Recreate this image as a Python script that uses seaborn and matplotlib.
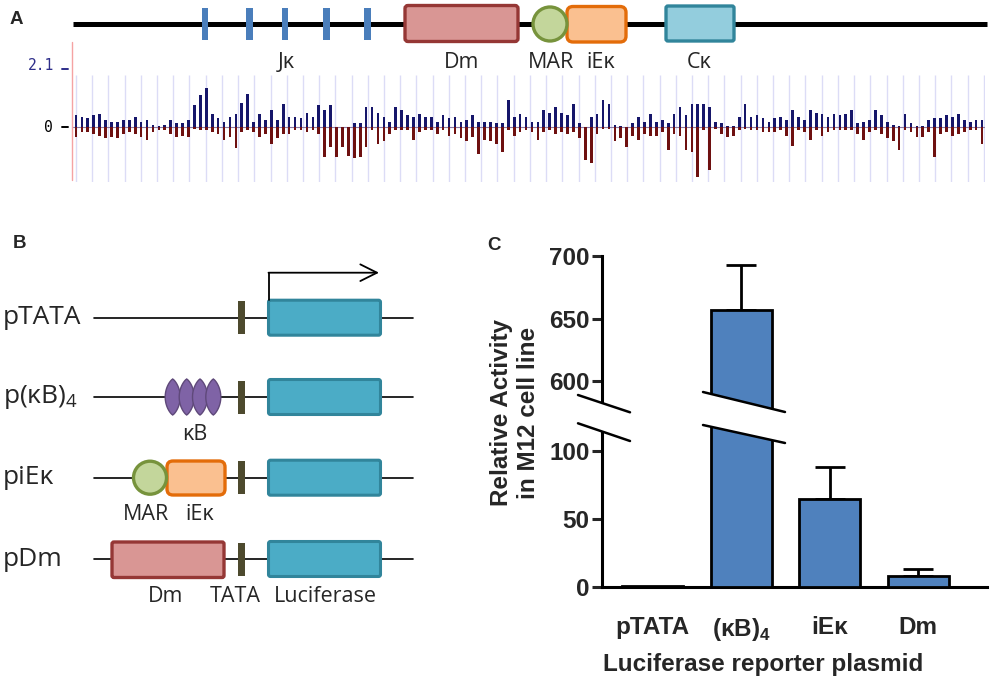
import numpy as np
import pandas as pd
import matplotlib
matplotlib.use('Agg')
import matplotlib.pyplot as plt
import seaborn as sns
from matplotlib.patches import Rectangle, FancyBboxPatch, Circle, Polygon

# ---- data: panel A signal track (one value per ~6 px bin)
track_pos = [0.4, 0.35, 0.3, 0.4, 0.45, 0.23, 0.17, 0.17, 0.23, 0.23, 0.35, 0.17, 0.23,
             0.06, 0.03, 0.06, 0.23, 0.12, 0.12, 0.23, 0.75, 1.1, 1.35, 0.45, 0.3, 0.17,
             0.35, 0.45, 0.85, 1.15, 0.17, 0.45, 0.23, 0.6, 0.23, 0.8, 0.35, 0.35, 0.3,
             0.5, 0.35, 0.75, 0.6, 0.75, 0.0, 0.0, 0.0, 0.12, 0.12, 0.7, 0.7, 0.5,
             0.35, 0.17, 0.7, 0.6, 0.4, 0.35, 0.45, 0.35, 0.35, 0.17, 0.4, 0.3, 0.35,
             0.17, 0.23, 0.4, 0.17, 0.17, 0.17, 0.12, 0.12, 0.93, 0.35, 0.45, 0.35, 0.17,
             0.17, 0.6, 0.5, 0.7, 0.5, 0.4, 0.8, 0.12, 0.0, 0.35, 0.45, 0.93, 0.8,
             0.06, 0.02, 0.0, 0.12, 0.35, 0.17, 0.45, 0.17, 0.23, 0.14, 0.45, 0.7, 0.4,
             0.8, 0.8, 0.8, 0.7, 0.17, 0.12, 0.02, 0.02, 0.35, 0.8, 0.35, 0.4, 0.3,
             0.17, 0.3, 0.35, 0.23, 0.6, 0.35, 0.23, 0.6, 0.5, 0.45, 0.35, 0.45, 0.4,
             0.45, 0.6, 0.14, 0.17, 0.23, 0.6, 0.4, 0.17, 0.06, 0.02, 0.45, 0.12, 0.02,
             0.02, 0.23, 0.3, 0.3, 0.4, 0.35, 0.45, 0.23, 0.17, 0.23, 0.23]
track_neg = [-0.35, -0.17, -0.17, -0.23, -0.3, -0.4, -0.35, -0.4, -0.23, -0.17, -0.23, -0.35, -0.47,
             -0.17, -0.12, -0.12, -0.23, -0.35, -0.3, -0.35, -0.06, -0.12, -0.12, -0.17, -0.23, -0.47,
             -0.35, -0.75, -0.17, -0.12, -0.17, -0.35, -0.23, -0.6, -0.4, -0.23, -0.23, -0.12, -0.12,
             -0.17, -0.12, -0.23, -1.05, -0.7, -1.05, -0.7, -1.0, -1.1, -1.05, -0.7, -0.12, -0.6,
             -0.5, -0.23, -0.12, -0.12, -0.12, -0.47, -0.17, -0.12, -0.12, -0.23, -0.12, -0.3, -0.23,
             -0.4, -0.5, -0.35, -0.93, -0.47, -0.5, -0.6, -0.87, -0.12, -0.3, -0.17, -0.12, -0.17,
             -0.47, -0.17, -0.12, -0.23, -0.17, -0.23, -0.17, -0.4, -1.15, -1.27, -0.23, -0.06, -0.06,
             -0.5, -0.4, -0.7, -0.3, -0.47, -0.23, -0.3, -0.3, -0.17, -0.8, -0.23, -0.3, -0.8,
             -0.87, -1.75, -0.12, -1.5, -0.06, -0.23, -0.35, -0.3, -0.12, -0.06, -0.12, -0.12, -0.17,
             -0.17, -0.17, -0.12, -0.3, -0.65, -0.12, -0.17, -0.47, -0.12, -0.3, -0.17, -0.12, -0.12,
             -0.12, -0.1, -0.23, -0.47, -0.17, -0.12, -0.23, -0.4, -0.5, -0.8, -0.12, -0.17, -0.35,
             -0.35, -0.17, -1.05, -0.23, -0.17, -0.3, -0.23, -0.17, -0.12, -0.12, -0.6]
track_top_label = '2.1'

# ---- data: panel C luciferase assay
plasmids = ['pTATA', '(κB)$_\\mathbf{4}$', 'iEκ', 'Dm']
activity = [1.0, 657.0, 64.5, 8.0]
err_up = [0.0, 36.0, 24.0, 5.0]

# ---- schematic labels
rows_b = ['pTATA', 'p(κB)$_4$', 'piEκ', 'pDm']

sns.set_style('white')
plt.rcParams['font.family'] = ['Liberation Sans', 'DejaVu Sans']
plt.rcParams['mathtext.fontset'] = 'custom'
plt.rcParams['mathtext.rm'] = 'Open Sans'
plt.rcParams['mathtext.bf'] = 'Liberation Sans:bold'

W, H = 992, 682
fig = plt.figure(figsize=(9.92, 6.82), dpi=100)


def px_axes(x0, y0, x1, y1):
    return fig.add_axes([x0 / W, 1 - y1 / H, (x1 - x0) / W, (y1 - y0) / H])


OPEN = ['Open Sans', 'DejaVu Sans']
FS_C = 17.5

# ---------------- panel A track
ax_t = px_axes(73, 75, 985, 182)
n = len(track_pos)
xb = np.arange(n) + 0.5
grid_x = (np.arange(57) * 16.21 + 76 - 73) / (912 / n)
ax_t.vlines(grid_x, -1.92, 1.81, color='#dcdcf6', lw=1, zorder=0)
ax_t.bar(xb, track_pos, width=0.45, color='#16166a', lw=0, zorder=2)
ax_t.bar(xb, track_neg, width=0.45, color='#6e1010', lw=0, zorder=2)
ax_t.axhline(0, color='#8a7aa8', lw=0.8, zorder=1)
ax_t.set_xlim(0, n)
ax_t.set_ylim(-1.92, 1.81)
ax_t.axis('off')

# ---------------- panel C broken-axis bar chart
df = pd.DataFrame({'plasmid': plasmids, 'activity': activity})
ax_hi = px_axes(602, 256, 987, 412)
ax_lo = px_axes(602, 423, 987, 587)
idx = [i for i, e in enumerate(err_up) if e > 0]
for ax in (ax_hi, ax_lo):
    sns.barplot(data=df, x='plasmid', y='activity', order=plasmids, color='#4f81bd',
                saturation=1, width=0.69, edgecolor='black', linewidth=2,
                errorbar=None, ax=ax, zorder=3)
    ax.errorbar(idx, [activity[i] for i in idx],
                yerr=[[0] * len(idx), [err_up[i] for i in idx]],
                fmt='none', ecolor='black', elinewidth=2, capsize=11, capthick=2, zorder=2)
    ax.set_xlim(-0.57, 3.775)
    ax.set_ylabel('')
    ax.set_xlabel('')
    for s in ['top', 'right']:
        ax.spines[s].set_visible(False)
    for s in ['left', 'bottom']:
        ax.spines[s].set_linewidth(2.2)
        ax.spines[s].set_color('black')
    ax.tick_params(axis='y', direction='out', length=7, width=2.2, pad=2, left=True)

ax_hi.set_ylim(575.2, 700)
ax_hi.set_yticks([600, 650, 700])
ax_hi.set_yticklabels(['600', '650', '700'], fontweight='bold', fontsize=FS_C)
ax_hi.spines['bottom'].set_visible(False)
ax_hi.set_xticks([])

ax_lo.set_ylim(0, 120.6)
ax_lo.set_yticks([0, 50, 100])
ax_lo.set_yticklabels(['0', '50', '100'], fontweight='bold', fontsize=FS_C)
ax_lo.set_xticks(range(len(plasmids)))
ax_lo.set_xticklabels(plasmids, fontweight='bold', fontsize=FS_C)
ax_lo.tick_params(axis='x', length=0, pad=21)

fig.text(763 / W, 1 - 664 / H, 'Luciferase reporter plasmid', ha='center', va='center',
         fontsize=FS_C, fontweight='bold')
fig.text(515 / W, 1 - 413 / H, 'Relative Activity\nin M12 cell line', ha='center', va='center',
         rotation=90, fontsize=FS_C, fontweight='bold', multialignment='center', linespacing=1.25)

# ---------------- overlay in pixel coordinates for the schematics
ov = fig.add_axes([0, 0, 1, 1])
ov.set_xlim(0, W)
ov.set_ylim(H, 0)
ov.axis('off')

# broken-axis marks
ov.add_patch(Polygon([(590, 399), (616, 408), (616, 436), (590, 427)], closed=True,
                     fc='white', ec='none', zorder=5))
ov.add_patch(Polygon([(700, 391), (790, 413), (790, 444), (700, 424)], closed=True,
                     fc='white', ec='none', zorder=5))
for (x0, y0, x1, y1) in [(578, 395, 630, 412.3), (578, 423.3, 630, 441),
                         (703, 392, 785, 412), (703, 425, 785, 443)]:
    ov.plot([x0, x1], [y0, y1], color='black', lw=1.8, zorder=6)

# panel letters
for txt, x, y in [('A', 10, 20), ('B', 13, 243), ('C', 487, 245)]:
    ov.text(x, y, txt, fontsize=13.5, fontweight='bold', va='center', ha='left')

# panel A gene map
ov.plot([73, 987], [24, 24], color='black', lw=3.6, solid_capstyle='butt', zorder=1)
for cx in [205, 249.3, 285, 326.7, 367.7]:
    ov.add_patch(Rectangle((cx - 3.3, 7.5), 6.6, 32, fc='#4a7ebb', ec='none', zorder=2))
ov.add_patch(FancyBboxPatch((405, 5.5), 113, 36, boxstyle='round,pad=0,rounding_size=3',
                            fc='#d99694', ec='#953735', lw=2.4, zorder=2))
ov.add_patch(Circle((550, 24), 17, fc='#c3d69b', ec='#77933c', lw=2.4, zorder=3))
ov.add_patch(FancyBboxPatch((567, 6.5), 59, 35.5, boxstyle='round,pad=0,rounding_size=6',
                            fc='#fac090', ec='#e36c09', lw=2.4, zorder=2))
ov.add_patch(FancyBboxPatch((666, 6), 68, 35, boxstyle='round,pad=0,rounding_size=2',
                            fc='#93cddd', ec='#31859b', lw=2.4, zorder=2))
for txt, x in [('Jκ', 286), ('Dm', 462), ('MAR', 551), ('iEκ', 601), ('Cκ', 699)]:
    ov.text(x, 62, txt, family=OPEN, fontsize=15.5, ha='center', va='center')

# track axis labels
ov.plot([72, 72], [42, 180], color='#f5a3a3', lw=1)
ov.text(54, 66, track_top_label, family='DejaVu Sans Mono', fontsize=10.5, color='#2e2e8a',
        ha='right', va='center')
ov.plot([62, 68], [69, 69], color='#2e2e8a', lw=1.4)
ov.text(53, 127, '0', family='DejaVu Sans Mono', fontsize=10.5, color='black',
        ha='right', va='center')
ov.plot([62, 68], [127, 127], color='black', lw=1.4)

# panel B constructs
row_y = [317.7, 397, 477.7, 559]
for lab, y in zip(rows_b, row_y):
    ov.plot([94, 413], [y, y], color='black', lw=1.2, zorder=1)
    ov.add_patch(Rectangle((238, y - 16.5), 7, 33, fc='#4d4a2e', ec='none', zorder=2))
    ov.add_patch(FancyBboxPatch((268.5, y - 17.5), 112, 35, boxstyle='round,pad=0,rounding_size=2',
                                fc='#4bacc6', ec='#31859b', lw=2.2, zorder=2))
    ov.text(3, y, lab, family=OPEN, fontsize=19, ha='left', va='center')

# transcription arrow
ov.plot([269, 269], [300, 272.7], color='black', lw=1.3)
ov.annotate('', xy=(379, 272.7), xytext=(268.5, 272.7),
            arrowprops=dict(arrowstyle='->,head_length=0.6,head_width=0.3', color='black',
                            lw=1.3, mutation_scale=20, shrinkA=0, shrinkB=0))

# kB sites (pointed lenses)
t = np.linspace(-1, 1, 40)
for cx in [172.7, 186.7, 200, 213.3]:
    hw = 7.5 * (1 - t ** 2) ** 0.8
    pts = list(zip(cx + hw, 397 + 18 * t)) + list(zip(cx - hw[::-1], 397 + 18 * t[::-1]))
    ov.add_patch(Polygon(pts, closed=True, fc='#7f63a6', ec='#5f497a', lw=1, zorder=3))
ov.text(195, 435, 'κB', family=OPEN, fontsize=15.5, ha='center', va='center')

# MAR + iEk
ov.add_patch(Circle((150, 477.7), 16.5, fc='#c3d69b', ec='#77933c', lw=2.4, zorder=3))
ov.add_patch(FancyBboxPatch((167, 461), 58, 34, boxstyle='round,pad=0,rounding_size=6',
                            fc='#fac090', ec='#e36c09', lw=2.4, zorder=2))
ov.text(146, 514, 'MAR', family=OPEN, fontsize=15.5, ha='center', va='center')
ov.text(200, 514, 'iEκ', family=OPEN, fontsize=15.5, ha='center', va='center')

# Dm
ov.add_patch(FancyBboxPatch((112, 542), 112, 35.5, boxstyle='round,pad=0,rounding_size=2',
                            fc='#d99694', ec='#953735', lw=2.4, zorder=2))
for txt, x in [('Dm', 166), ('TATA', 235), ('Luciferase', 325)]:
    ov.text(x, 597, txt, family=OPEN, fontsize=15.5, ha='center', va='center')

fig.savefig('out.png', dpi=100)
